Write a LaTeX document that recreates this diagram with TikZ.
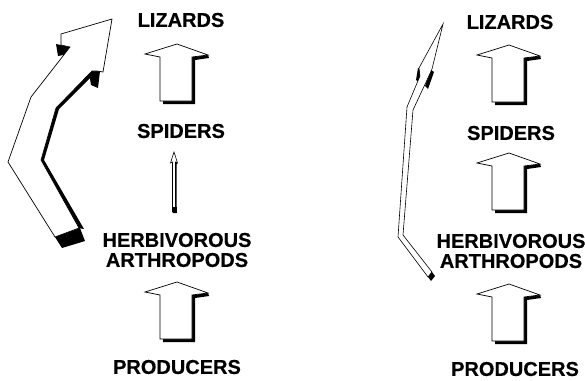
\documentclass[tikz,border=0pt]{standalone}
\usepackage{fontspec}
\setmainfont{Liberation Sans}[BoldFeatures={FakeBold=0.4}]
\begin{document}
\begin{tikzpicture}[x=1pt,y=-1pt,
  lbl/.style={font=\fontsize{20}{20}\selectfont\bfseries, align=center, inner sep=0pt},
  outl/.style={draw=black, fill=white, line width=0.7pt, line join=miter},
  shad/.style={fill=black},
  blockarrow/.pic={
    \fill[shad] (15,13) -- (31,11) -- (32,14) -- (18,16) -- (18,60) -- (-14,60) -- (-14,57) -- (15,57) -- cycle;
    \draw[outl] (0,0) -- (-32,10) -- (-17,13) -- (-17,57) -- (15,57) -- (15,13) -- (31,11) -- cycle;
  }]
\useasboundingbox (0,0) rectangle (585,380);
\fill[white] (0,0) rectangle (585,380);

% ---------- left panel ----------
\node[lbl] (lizL) at (181,20) {LIZARDS};
\node[lbl] (spiL) at (181,131) {SPIDERS};
\node[lbl] (herbL) at (177,250) {HERBIVOROUS\\ARTHROPODS};
\node[lbl] (prodL) at (177,367) {PRODUCERS};

\pic at (177,44) {blockarrow};
\pic at (177,282) {blockarrow};

% thin arrow spiders <- herbivores
\fill[shad] (175.5,162) -- (177.5,163) -- (176.8,164) -- (176.5,164) -- (176.5,213) -- (173,213) -- (173,212) -- (175.5,212) -- cycle;
\draw[outl, line width=0.6pt] (174,152) -- (170.5,163) -- (172.5,162) -- (172.5,212) -- (175.5,212) -- (175.5,162) -- (177.5,163) -- cycle;
\fill[shad] (172.5,207) rectangle (176.5,213);

% big bent arrow (left)
\fill[shad] (92,70) -- (96,72) -- (59,109) -- (44,160) -- (84,229) -- (78,228) -- (41,160) -- (56,108) -- cycle;
\fill[shad] (88,67) -- (100,71) -- (98,88) -- (91,85) -- cycle;
\fill[shad] (56,44) -- (70,47) -- (68,54) -- (58,56) -- cycle;
\draw[outl] (112,19) -- (103,72) -- (97,71) -- (92,71) -- (56,108) -- (41,160) -- (79,228)
  -- (55,237) -- (8,162) -- (31,97) -- (70,47) -- (61,45) -- (61,34) -- cycle;
\fill[shad] (55,237) -- (80,228) -- (85,241) -- (62,248) -- cycle;

% ---------- right panel ----------
\node[lbl] (lizR) at (510,22) {LIZARDS};
\node[lbl] (spiR) at (511,133) {SPIDERS};
\node[lbl] (herbR) at (511,251) {HERBIVOROUS\\ARTHROPODS};
\node[lbl] (prodR) at (515,369) {PRODUCERS};

\pic at (509,45) {blockarrow};
\pic at (509,153) {blockarrow};
\pic at (509,284) {blockarrow};

% thin bent arrow (right)
\fill[shad] (418,68) -- (423,70) -- (420,83) -- (416,80) -- cycle;
\fill[shad] (431,70) -- (434,72) -- (428,89) -- (425,86) -- cycle;
\draw[outl, line width=0.6pt] (443,24) -- (432,69) -- (427,80) -- (413,110) -- (403,235) -- (432,272)
  -- (428,277) -- (398,237) -- (407,107) -- (420,76) -- (419,68) -- cycle;
\fill[shad] (428,277) -- (432,272) -- (435,276) -- (431,281) -- cycle;
\end{tikzpicture}
\end{document}
